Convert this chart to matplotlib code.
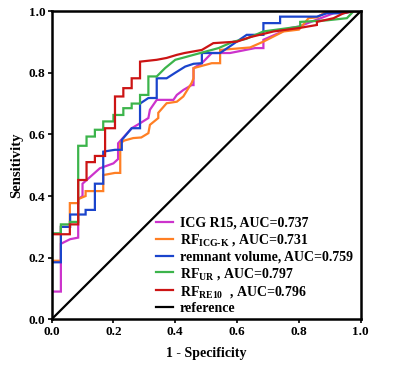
import matplotlib
matplotlib.use("Agg")
import matplotlib.pyplot as plt

# ROC curve vertices (1 - specificity, sensitivity)
icg_fpr = [0, 0, 0.03, 0.03, 0.06, 0.086, 0.086, 0.10, 0.10, 0.156, 0.20, 0.215, 0.215, 0.259, 0.286, 0.313,
           0.318, 0.34, 0.394, 0.405, 0.426, 0.453, 0.459, 0.459, 0.486, 0.518, 0.577, 0.658, 0.685, 0.685,
           0.772, 0.80, 0.912, 0.977, 1.0]
icg_tpr = [0, 0.09, 0.09, 0.245, 0.26, 0.265, 0.39, 0.40, 0.44, 0.49, 0.506, 0.52, 0.571, 0.62, 0.636, 0.653,
           0.68, 0.712, 0.712, 0.728, 0.744, 0.76, 0.76, 0.815, 0.831, 0.864, 0.864, 0.88, 0.88, 0.907,
           0.945, 0.95, 0.993, 1.0, 1.0]

rfk_fpr = [0, 0, 0.03, 0.03, 0.059, 0.059, 0.086, 0.086, 0.11, 0.11, 0.167, 0.167, 0.205, 0.222, 0.222, 0.235,
           0.264, 0.29, 0.313, 0.318, 0.345, 0.345, 0.372, 0.405, 0.426, 0.453, 0.459, 0.459, 0.518, 0.545,
           0.545, 0.642, 0.685, 0.75, 0.80, 0.831, 0.86, 0.89, 1.0]
rfk_tpr = [0, 0.19, 0.19, 0.30, 0.30, 0.377, 0.377, 0.39, 0.40, 0.416, 0.416, 0.468, 0.475, 0.475, 0.571, 0.58,
           0.588, 0.59, 0.604, 0.631, 0.653, 0.67, 0.701, 0.706, 0.723, 0.767, 0.782, 0.815, 0.831, 0.831,
           0.874, 0.882, 0.901, 0.934, 0.94, 0.977, 0.98, 1.0, 1.0]

vol_fpr = [0, 0, 0.03, 0.03, 0.06, 0.06, 0.11, 0.11, 0.14, 0.14, 0.167, 0.167, 0.205, 0.227, 0.227, 0.259,
           0.286, 0.286, 0.313, 0.34, 0.34, 0.372, 0.40, 0.432, 0.459, 0.486, 0.486, 0.545, 0.631, 0.685,
           0.685, 0.739, 0.739, 0.858, 0.89, 0.944, 0.977, 1.0]
vol_tpr = [0, 0.185, 0.185, 0.30, 0.30, 0.34, 0.34, 0.355, 0.355, 0.44, 0.44, 0.544, 0.55, 0.55, 0.582, 0.62,
           0.62, 0.70, 0.718, 0.718, 0.782, 0.782, 0.80, 0.82, 0.829, 0.831, 0.864, 0.864, 0.923, 0.923,
           0.961, 0.961, 0.982, 0.982, 0.993, 0.993, 1.0, 1.0]

rfur_fpr = [0, 0, 0.03, 0.03, 0.059, 0.059, 0.086, 0.086, 0.113, 0.113, 0.14, 0.14, 0.167, 0.167, 0.2, 0.2,
            0.232, 0.232, 0.259, 0.259, 0.286, 0.286, 0.313, 0.313, 0.34, 0.367, 0.40, 0.43, 0.459, 0.54,
            0.588, 0.63, 0.685, 0.804, 0.804, 0.89, 0.955, 0.977, 1.0]
rfur_tpr = [0, 0.279, 0.279, 0.308, 0.308, 0.316, 0.316, 0.563, 0.563, 0.593, 0.593, 0.615, 0.615, 0.642,
            0.642, 0.663, 0.663, 0.685, 0.685, 0.70, 0.70, 0.728, 0.728, 0.788, 0.788, 0.815, 0.842, 0.85,
            0.858, 0.88, 0.901, 0.91, 0.934, 0.95, 0.965, 0.97, 0.977, 1.0, 1.0]

rfre_fpr = [0, 0, 0.059, 0.059, 0.086, 0.086, 0.113, 0.113, 0.14, 0.14, 0.173, 0.173, 0.205, 0.205, 0.232,
            0.232, 0.259, 0.259, 0.286, 0.286, 0.34, 0.372, 0.405, 0.43, 0.486, 0.523, 0.6, 0.64, 0.718, 0.80,
            0.858, 0.858, 0.912, 0.944, 0.977, 1.0]
rfre_tpr = [0, 0.276, 0.276, 0.308, 0.308, 0.452, 0.452, 0.51, 0.51, 0.53, 0.53, 0.62, 0.62, 0.723, 0.723,
            0.75, 0.75, 0.782, 0.782, 0.836, 0.842, 0.848, 0.858, 0.864, 0.874, 0.896, 0.901, 0.915, 0.934,
            0.945, 0.955, 0.965, 0.977, 0.993, 1.0, 1.0]

labels = ['ICG R15, AUC=0.737',
          r'RF$_{\mathrm{ICG\text{-}K}}$ , AUC=0.731',
          'remnant volume, AUC=0.759',
          r'RF$_{\mathrm{UR}}$ , AUC=0.797',
          r'RF$_{\mathrm{RE10}}$  , AUC=0.796',
          'reference']
colors = ['#CC33CC', '#FF7F24', '#1A44CC', '#3CB44B', '#CC1414', 'black']

plt.rcParams['font.family'] = 'Liberation Serif'
plt.rcParams['font.weight'] = 'bold'
plt.rcParams['mathtext.fontset'] = 'custom'
plt.rcParams['mathtext.rm'] = 'Liberation Serif:bold'
plt.rcParams['mathtext.it'] = 'Liberation Serif:bold'
plt.rcParams['mathtext.bf'] = 'Liberation Serif:bold'

fig = plt.figure(figsize=(4.0, 3.7), dpi=100)
ax = fig.add_axes([0.129, 0.137, 0.773, 0.833])

curves = [(icg_fpr, icg_tpr), (rfk_fpr, rfk_tpr), (vol_fpr, vol_tpr), (rfur_fpr, rfur_tpr), (rfre_fpr, rfre_tpr)]
for (fx, fy), c, lab in zip(curves, colors[:5], labels[:5]):
    ax.plot(fx, fy, color=c, lw=1.6, label=lab, solid_joinstyle='miter')
ax.plot([0, 1], [0, 1], color='black', lw=1.6, label=labels[5])

ax.set_xlim(0, 1)
ax.set_ylim(0, 1)
ticks = [0.0, 0.2, 0.4, 0.6, 0.8, 1.0]
ax.set_xticks(ticks)
ax.set_yticks(ticks)
ax.set_xticklabels(['%.1f' % t for t in ticks])
ax.set_yticklabels(['%.1f' % t for t in ticks])
ax.tick_params(direction='out', length=3, width=1.2, labelsize=9.5, pad=1.5)
for s in ax.spines.values():
    s.set_linewidth(1.8)

ax.set_xlabel('1 - Specificity', fontsize=10, fontweight='bold', labelpad=7)
ax.set_ylabel('Sensitivity', fontsize=10.5, fontweight='bold', labelpad=4)

ax.legend(loc='upper left', bbox_to_anchor=(0.32, 0.35), frameon=False, fontsize=10,
          handlelength=1.2, handletextpad=0.5, labelspacing=0.16, borderaxespad=0)

fig.savefig('out.png', dpi=100)
